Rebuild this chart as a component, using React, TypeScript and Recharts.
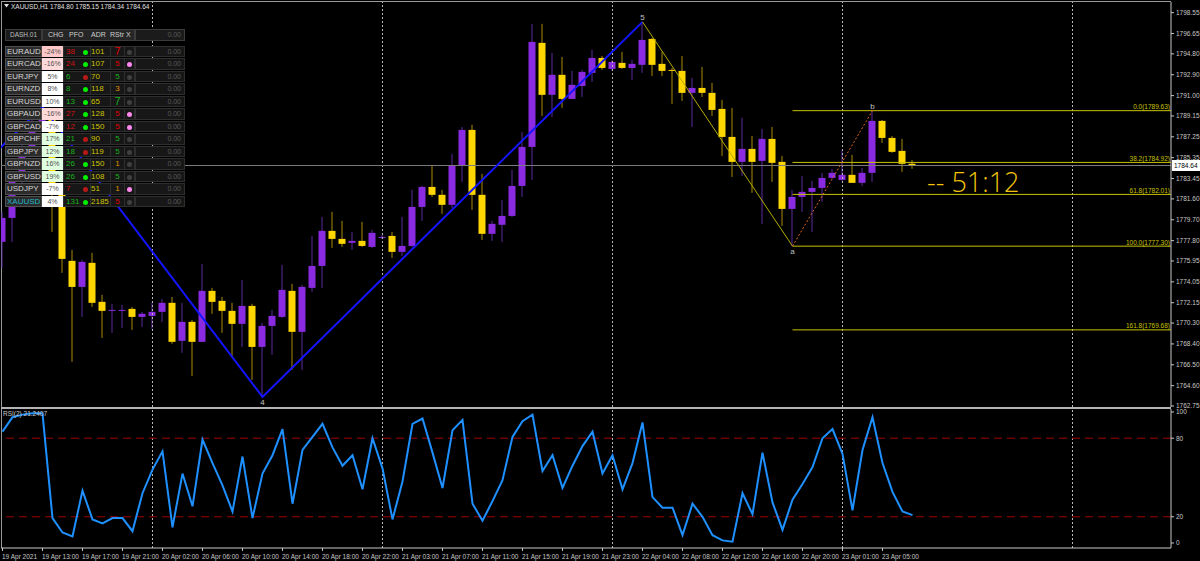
import { Bar, ComposedChart, Line, ReferenceDot, ReferenceLine, XAxis, YAxis } from "recharts";

// H1 bars, index 0 = 19 Apr 09:00
const opens = [
  1777.69, 1779.87, 1783.33, 1786.06, 1788.34, 1789.25, 1781.97, 1775.96, 1773.59, 1775.78,
  1772.23, 1771.45, 1771.5, 1771.59, 1770.86, 1770.95, 1771.32, 1772.14, 1768.68, 1770.41,
  1768.59, 1773.23, 1772.32, 1771.41, 1770.23, 1771.86, 1768.13, 1770.04, 1770.86, 1773.23,
  1769.5, 1773.5, 1775.5, 1778.69, 1777.96, 1777.6, 1777.78, 1777.23, 1778.1, 1778.23,
  1776.78, 1777.32, 1780.87, 1782.69, 1781.97, 1781.06, 1784.6, 1787.88, 1781.97, 1778.42,
  1779.24, 1780.05, 1782.78, 1786.33, 1795.8, 1791.07, 1792.89, 1790.7, 1791.88, 1793.07,
  1794.43, 1793.43, 1793.98, 1793.52, 1793.8, 1796.16, 1793.89, 1793.34, 1793.25, 1791.25,
  1791.7, 1791.25, 1789.79, 1787.24, 1784.97, 1786.15, 1785.06, 1787.06, 1784.97, 1780.69,
  1781.78, 1782.24, 1782.6, 1783.51, 1783.33, 1783.79, 1783.06, 1783.97, 1788.7, 1787.15,
  1785.97, 1784.8,
];
const highs = [
  1780.42, 1783.79, 1786.97, 1788.97, 1789.97, 1789.52, 1782.42, 1776.96, 1776.05, 1776.69,
  1772.87, 1772.05, 1771.96, 1771.77, 1771.32, 1772.14, 1772.5, 1772.68, 1772.14, 1770.59,
  1775.69, 1773.5, 1772.68, 1772.14, 1774.23, 1772.05, 1770.32, 1771.5, 1775.6, 1773.87,
  1773.78, 1778.23, 1779.96, 1780.42, 1779.6, 1778.6, 1779.51, 1778.78, 1778.33, 1778.6,
  1779.96, 1782.42, 1782.78, 1784.6, 1782.42, 1785.7, 1788.15, 1788.34, 1783.88, 1779.6,
  1781.51, 1784.24, 1787.7, 1797.53, 1797.53, 1794.89, 1794.52, 1793.25, 1793.34, 1795.16,
  1794.61, 1794.25, 1794.98, 1794.25, 1797.71, 1796.25, 1794.98, 1793.52, 1794.61, 1792.61,
  1793.61, 1792.16, 1790.61, 1789.88, 1788.97, 1787.33, 1787.97, 1788.15, 1785.51, 1782.42,
  1783.69, 1783.24, 1783.97, 1784.33, 1786.06, 1785.61, 1784.42, 1789.63, 1788.79, 1787.33,
  1787.06, 1785.15,
];
const lows = [
  1775.32, 1777.69, 1782.88, 1785.61, 1787.88, 1778.6, 1774.87, 1766.77, 1770.86, 1771.77,
  1768.95, 1769.41, 1769.86, 1769.68, 1769.95, 1769.77, 1770.41, 1768.41, 1767.59, 1765.49,
  1768.59, 1771.14, 1769.41, 1767.22, 1768.13, 1765.13, 1763.58, 1767.41, 1770.77, 1766.04,
  1766.04, 1773.14, 1773.5, 1777.14, 1777.23, 1776.96, 1777.23, 1777.14, 1777.96, 1776.23,
  1776.41, 1777.23, 1779.6, 1781.78, 1780.24, 1780.78, 1783.15, 1780.6, 1777.87, 1777.78,
  1777.69, 1779.96, 1781.78, 1783.33, 1789.15, 1789.06, 1789.88, 1790.7, 1790.88, 1792.25,
  1793.34, 1793.25, 1793.43, 1792.43, 1793.07, 1792.79, 1792.79, 1790.25, 1790.52, 1788.15,
  1790.88, 1789.15, 1785.51, 1783.6, 1783.69, 1782.15, 1779.33, 1783.15, 1779.14, 1777.3,
  1780.42, 1778.6, 1781.33, 1783.42, 1783.24, 1783.06, 1782.78, 1783.15, 1786.7, 1785.79,
  1784.06, 1784.34,
];
const closes = [
  1779.87, 1783.33, 1786.06, 1788.34, 1789.25, 1781.97, 1776.14, 1773.59, 1775.87, 1772.14,
  1771.41, 1771.5, 1771.5, 1770.86, 1771.14, 1771.32, 1772.14, 1768.59, 1770.41, 1768.59,
  1773.23, 1772.23, 1771.41, 1770.23, 1771.86, 1768.13, 1770.04, 1770.95, 1773.32, 1769.5,
  1773.59, 1775.5, 1778.69, 1777.96, 1777.51, 1777.78, 1777.32, 1778.51, 1778.14, 1776.78,
  1777.32, 1780.87, 1782.69, 1781.97, 1781.06, 1784.6, 1787.88, 1781.97, 1778.42, 1779.33,
  1780.05, 1782.78, 1786.33, 1795.89, 1791.07, 1792.89, 1790.7, 1791.98, 1793.16, 1794.43,
  1793.52, 1794.07, 1793.52, 1793.89, 1796.07, 1793.8, 1793.25, 1793.25, 1791.25, 1791.7,
  1791.25, 1789.7, 1787.24, 1784.97, 1786.15, 1784.97, 1787.06, 1784.88, 1780.69, 1781.78,
  1782.24, 1782.6, 1783.51, 1783.97, 1783.79, 1783.06, 1783.97, 1788.7, 1787.15, 1785.88,
  1784.79, 1784.64,
];
const rsiValues = [
  85, 96, 98, 99, 99, 19, 8, 5, 40, 18,
  15, 19, 19, 9, 38, 56, 70, 12, 53, 28,
  79, 61, 44, 24, 66, 19, 53, 67, 87, 30,
  71, 81, 91, 73, 59, 67, 41, 80, 57, 18,
  47, 91, 95, 69, 42, 86, 94, 30, 17, 32,
  48, 81, 93, 98, 55, 67, 42, 59, 74, 85,
  53, 67, 41, 61, 92, 35, 27, 27, 6, 30,
  20, 6, 2, 1, 38, 22, 69, 31, 10, 33,
  45, 58, 80, 87, 68, 25, 71, 96, 61, 39,
  24, 21.24,
];

const timeLabels = [
  "19 Apr 2021", "19 Apr 13:00", "19 Apr 17:00", "19 Apr 21:00", "20 Apr 02:00", "20 Apr 06:00",
  "20 Apr 10:00", "20 Apr 14:00", "20 Apr 18:00", "20 Apr 22:00", "21 Apr 03:00", "21 Apr 07:00",
  "21 Apr 11:00", "21 Apr 15:00", "21 Apr 19:00", "21 Apr 23:00", "22 Apr 04:00", "22 Apr 08:00",
  "22 Apr 12:00", "22 Apr 16:00", "22 Apr 20:00", "23 Apr 01:00", "23 Apr 05:00",
];
const timeTickIdx = timeLabels.map((_, k) => k * 4);
const daySeparators = [15, 38, 61, 84, 107];

const priceTicks = [
  1798.55, 1796.65, 1794.8, 1792.9, 1791.0, 1789.15, 1787.25, 1785.35, 1783.45, 1781.6,
  1779.7, 1777.8, 1775.95, 1774.05, 1772.15, 1770.3, 1768.4, 1766.5, 1764.6, 1762.75,
];
const rsiTicks = [0, 20, 80, 100];
const lastPrice = 1784.64;

// zigzag pivots (first one sits off the left edge)
const zigIdx = [-6, 4, 26, 64];
const zigPrice = [1781.15, 1789.97, 1763.58, 1797.71];
const waveIdx = [64, 79];
const wavePrice = [1797.71, 1777.3];
const abIdx = [79, 87];
const abPrice = [1777.3, 1789.63];
const pivotTags = ["4", "5", "a", "b"];
const pivotIdx = [26, 64, 79, 87];
const pivotPrice = [1763.58, 1797.71, 1777.3, 1789.63];
const pivotBelow = [true, false, true, false];

const fibRatios = ["0.0", "38.2", "61.8", "100.0", "161.8"];
const fibPrices = [1789.63, 1784.92, 1782.01, 1777.3, 1769.68];
const fibStart = 79;

// dashboard
const dashSymbols = ["EURAUD", "EURCAD", "EURJPY", "EURNZD", "EURUSD", "GBPAUD", "GBPCAD", "GBPCHF", "GBPJPY", "GBPNZD", "GBPUSD", "USDJPY", "XAUUSD"];
const dashChg = [-24, -16, 5, 8, 10, -16, -7, 17, 12, 16, 19, -7, 4];
const dashPfo = [38, 24, 6, 8, 13, 27, 12, 21, 18, 26, 26, 7, 131];
const dashPfoPos = [false, false, true, true, true, false, false, true, true, true, true, false, true];
const dashPfoDot = ["g", "g", "r", "g", "g", "g", "g", "r", "r", "g", "g", "r", "g"];
const dashAdr = [101, 107, 70, 118, 65, 128, 150, 90, 119, 150, 108, 51, 2185];
const dashRstr = [7, 5, 5, 3, 7, 5, 5, 5, 5, 1, 5, 1, 5];
const dashRstrCol = ["r", "r", "g", "o", "g", "r", "r", "g", "g", "o", "g", "o", "r"];
const dashX = [0, 1, 0, 0, 0, 1, 1, 0, 0, 0, 0, 1, 0];

const FONT = "'Liberation Sans', Arial, sans-serif";
const AXIS = "#c8c8c8";
const BULL = "#8a2be2";
const BEAR = "#ffd700";
const BULL_WICK = "#5e2aa0";
const BEAR_WICK = "#a88a0a";
const FIB = "#c8c200";
const X_DOMAIN: [number, number] = [-0.15, 116.85];

const candleData = opens.map((o, i) => ({
  i,
  open: o,
  high: highs[i],
  low: lows[i],
  close: closes[i],
  range: [lows[i], highs[i]],
  rsi: rsiValues[i],
}));
const zigData = zigIdx.map((i, k) => ({ i, v: zigPrice[k] }));
const waveData = waveIdx.map((i, k) => ({ i, v: wavePrice[k] }));
const abData = abIdx.map((i, k) => ({ i, v: abPrice[k] }));

function Candle(props: any) {
  const { x, y, width, height, payload } = props;
  if (!payload) return null;
  const { open, close, high, low } = payload;
  const top0 = Math.min(y, y + height);
  const h = Math.abs(height);
  const k = high > low ? h / (high - low) : 0;
  const py = (v: number) => top0 + (high - v) * k;
  const up = close >= open;
  const cx = x + width / 2;
  const bt = py(Math.max(open, close));
  const bb = py(Math.min(open, close));
  return (
    <g>
      <line x1={cx} x2={cx} y1={top0} y2={top0 + h} stroke={up ? BULL_WICK : BEAR_WICK} strokeWidth={1} />
      <rect x={x} y={bt} width={width} height={Math.max(1, bb - bt)} fill={up ? BULL : BEAR} />
    </g>
  );
}

function TimeTick(props: any) {
  const { x, y, payload } = props;
  const k = timeTickIdx.indexOf(payload.value);
  return (
    <text x={x - 0.5} y={y + 6} textAnchor="start" fill={AXIS} fontSize={6.5} fontFamily={FONT}>
      {timeLabels[k]}
    </text>
  );
}

function chgBg(v: number) {
  if (v <= -20) return "#ffc8c8";
  if (v <= -15) return "#ffdada";
  if (v >= 12) return "#e0ffe0";
  return "#ffffff";
}
const dotColor: Record<string, string> = { g: "#00ee00", r: "#b81818" };
const rstrColor: Record<string, string> = { r: "#e00000", g: "#18b018", o: "#e09000" };

function abs(left: number, top: number, width: number, height: number) {
  return { position: "absolute" as const, left, top, width, height, boxSizing: "border-box" as const };
}

function Dashboard() {
  return (
    <div style={{ fontFamily: FONT }}>
      <div style={{ ...abs(5, 29, 37, 12), background: "#1b1b1b", border: "1px solid #3c3c3c", color: "#bdbdbd", fontSize: 6.5, textAlign: "center", lineHeight: "10px" }}>DASH.01</div>
      <div style={{ ...abs(42, 29, 93, 12), background: "#262626", border: "1px solid #3c3c3c", color: "#d0d0d0", fontSize: 7, lineHeight: "10px" }}>
        <span style={{ position: "absolute", left: 5 }}>CHG</span>
        <span style={{ position: "absolute", left: 26 }}>PFO</span>
        <span style={{ position: "absolute", left: 48 }}>ADR</span>
        <span style={{ position: "absolute", left: 67 }}>RStr</span>
        <span style={{ position: "absolute", left: 83 }}>X</span>
      </div>
      <div style={{ ...abs(135, 29, 50, 12), background: "#1b1b1b", border: "1px solid #3c3c3c", color: "#5a5a5a", fontSize: 7, textAlign: "right", paddingRight: 3, lineHeight: "10px" }}>0.00</div>
      {dashSymbols.map((s, r) => {
        const top = 45.7 + r * 12.5;
        return (
          <div key={s}>
            <div style={{ ...abs(5, top, 37, 11.6), background: "#2b2b2b", border: "1px solid #505050", color: s === "XAUUSD" ? "#1fb8c8" : "#d4d4d4", fontSize: 8, lineHeight: "10px", paddingLeft: 1, overflow: "hidden", whiteSpace: "nowrap" }}>{s}</div>
            <div style={{ ...abs(42, top, 21, 11.6), background: chgBg(dashChg[r]), color: "#505050", fontSize: 7, lineHeight: "11px", textAlign: "center" }}>{dashChg[r]}%</div>
            <div style={{ ...abs(63, top, 72, 11.6), background: "#171717", border: "1px solid #2e2e2e" }}>
              <div style={{ position: "absolute", left: 26, top: 0, bottom: 0, borderLeft: "1px solid #2e2e2e" }} />
              <div style={{ position: "absolute", left: 46, top: 0, bottom: 0, borderLeft: "1px solid #2e2e2e" }} />
              <div style={{ position: "absolute", left: 60, top: 0, bottom: 0, borderLeft: "1px solid #2e2e2e" }} />
              <span style={{ position: "absolute", left: 2, top: 0, fontSize: 8, lineHeight: "10px", color: dashPfoPos[r] ? "#18b018" : "#d41010" }}>{dashPfo[r]}</span>
              <span style={{ position: "absolute", left: 18.5, top: 3, width: 5, height: 5, borderRadius: 3, background: dotColor[dashPfoDot[r]] }} />
              <span style={{ position: "absolute", left: 27, top: 0, fontSize: 8, lineHeight: "10px", color: "#cfc300" }}>{dashAdr[r]}</span>
              <span style={{ position: "absolute", left: 47, width: 13, top: dashRstr[r] === 7 ? -2 : 0, textAlign: "center", fontSize: dashRstr[r] === 7 ? 11 : 8, lineHeight: dashRstr[r] === 7 ? "13px" : "10px", color: rstrColor[dashRstrCol[r]] }}>{dashRstr[r]}</span>
              <span style={{ position: "absolute", left: 62.5, top: 3, width: 5, height: 5, borderRadius: 3, background: dashX[r] ? "#ff88ee" : "#404040" }} />
            </div>
            <div style={{ ...abs(135, top, 50, 11.6), background: "#171717", border: "1px solid #2e2e2e", color: "#5a5a5a", fontSize: 7, textAlign: "right", paddingRight: 3, lineHeight: "10px" }}>0.00</div>
          </div>
        );
      })}
    </div>
  );
}

export default function App() {
  return (
    <div style={{ position: "absolute", left: 0, top: 0, width: 1200, height: 561, background: "#000", overflow: "hidden" }}>
      <style>{`body{margin:0;background:#000}`}</style>
      {/* frames */}
      <div style={{ position: "absolute", left: 1, top: 1, width: 1170, height: 1, background: "#9a9a9a" }} />
      <div style={{ position: "absolute", left: 1, top: 1, width: 1, height: 547, background: "#9a9a9a" }} />
      <div style={{ position: "absolute", left: 1, top: 407, width: 1170, height: 2, background: "#b4b4b4" }} />

      <div style={{ position: "absolute", left: 0, top: 0 }}>
        <ComposedChart width={1200} height={410} data={candleData} margin={{ top: 2, right: 0, bottom: 3, left: 1 }}>
          <XAxis dataKey="i" type="number" domain={X_DOMAIN} allowDataOverflow hide />
          <YAxis
            orientation="right"
            width={29}
            domain={[1762.66, 1799.52]}
            allowDataOverflow
            ticks={priceTicks}
            interval={0}
            tickFormatter={(v: number) => v.toFixed(2)}
            tick={{ fill: AXIS, fontSize: 6.5, fontFamily: FONT }}
            tickSize={3}
            tickMargin={2}
            tickLine={{ stroke: AXIS }}
            axisLine={{ stroke: AXIS }}
          />
          {daySeparators.map((s) => (
            <ReferenceLine key={`sep${s}`} x={s} stroke="#b8b8b8" strokeDasharray="2 2" />
          ))}
          <ReferenceLine
            y={lastPrice}
            stroke="#7c7c7c"
            label={(p: any) => (
              <g>
                <rect x={p.viewBox.x + p.viewBox.width + 1} y={p.viewBox.y - 5.5} width={28} height={11} fill="#ffffff" />
                <text x={p.viewBox.x + p.viewBox.width + 3} y={p.viewBox.y + 2.3} fill="#000" fontSize={6.5} fontFamily={FONT}>
                  {lastPrice.toFixed(2)}
                </text>
              </g>
            )}
          />
          {fibPrices.map((p, k) => (
            <ReferenceLine
              key={`fib${k}`}
              segment={[{ x: fibStart, y: p }, { x: X_DOMAIN[1], y: p }]}
              stroke={FIB}
              label={(lp: any) => (
                <text x={lp.viewBox.x + lp.viewBox.width - 1} y={lp.viewBox.y - 1.5} textAnchor="end" fill={FIB} fontSize={6.5} fontFamily={FONT}>
                  {`${fibRatios[k]}(${p.toFixed(2)})`}
                </text>
              )}
            />
          ))}
          <Bar dataKey="range" barSize={7} shape={<Candle />} isAnimationActive={false} />
          <Line data={zigData} dataKey="v" stroke="#1414ff" strokeWidth={2} dot={false} isAnimationActive={false} />
          <Line data={waveData} dataKey="v" stroke="#b4ac00" strokeWidth={1} dot={false} isAnimationActive={false} />
          <Line data={abData} dataKey="v" stroke="#e0641e" strokeWidth={1} strokeDasharray="2 2" dot={false} isAnimationActive={false} />
          {pivotTags.map((t, k) => (
            <ReferenceDot
              key={`pv${t}`}
              x={pivotIdx[k]}
              y={pivotPrice[k]}
              r={0}
              fill="none"
              stroke="none"
              label={{ value: t, position: pivotBelow[k] ? "bottom" : "top", offset: 2, fill: "#c4c4c4", fontSize: 8, fontFamily: FONT }}
            />
          ))}
        </ComposedChart>
      </div>

      <div style={{ position: "absolute", left: 0, top: 409 }}>
        <ComposedChart width={1200} height={152} data={candleData} margin={{ top: 0, right: 0, bottom: 0, left: 1 }}>
          <XAxis
            dataKey="i"
            type="number"
            domain={X_DOMAIN}
            allowDataOverflow
            ticks={timeTickIdx}
            interval={0}
            height={13}
            tick={<TimeTick />}
            tickSize={3}
            tickMargin={2}
            tickLine={{ stroke: AXIS }}
            axisLine={{ stroke: AXIS }}
          />
          <YAxis
            orientation="right"
            width={29}
            domain={[-3.82, 102.29]}
            allowDataOverflow
            ticks={rsiTicks}
            interval={0}
            tick={{ fill: AXIS, fontSize: 6.5, fontFamily: FONT }}
            tickSize={3}
            tickMargin={2}
            tickLine={{ stroke: AXIS }}
            axisLine={{ stroke: AXIS }}
          />
          {daySeparators.map((s) => (
            <ReferenceLine key={`rsep${s}`} x={s} stroke="#b8b8b8" strokeDasharray="2 2" />
          ))}
          <ReferenceLine y={80} stroke="#a00000" strokeDasharray="8 5" />
          <ReferenceLine y={20} stroke="#a00000" strokeDasharray="8 5" />
          <Line dataKey="rsi" stroke="#1e90ff" strokeWidth={2} dot={false} isAnimationActive={false} />
        </ComposedChart>
      </div>

      <svg width={1200} height={561} style={{ position: "absolute", left: 0, top: 0, pointerEvents: "none" }}>
        <path d="M4 4 L9 4 L6.5 7.5 Z" fill="#e0e0e0" />
        <text x={11} y={8.5} fill="#e0e0e0" fontSize={6.5} fontFamily={FONT}>
          XAUUSD,H1  1784.80 1785.15 1784.34 1784.64
        </text>
        <text x={3} y={416} fill="#c8c8c8" fontSize={6.5} fontFamily={FONT}>
          RSI(2) 21.2407
        </text>
        <text x={927} y={192} fill="#f2c40c" fontSize={27} fontWeight={300} fontFamily="'Open Sans', Lato, sans-serif">
          -- 51:12
        </text>
      </svg>

      <Dashboard />
    </div>
  );
}
